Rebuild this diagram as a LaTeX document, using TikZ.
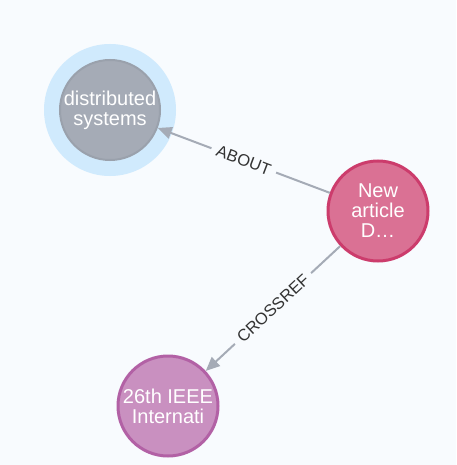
\documentclass[tikz,border=0pt]{standalone}
\usepackage{fontspec}
\setmainfont{Liberation Sans}
\usetikzlibrary{arrows.meta}

\definecolor{bgcol}{HTML}{F8FBFE}
\definecolor{halocol}{HTML}{D0EAFD}
\definecolor{topicfill}{HTML}{A5ABB6}
\definecolor{topicline}{HTML}{9AA1AC}
\definecolor{articlefill}{HTML}{DA7194}
\definecolor{articleline}{HTML}{CC3C6C}
\definecolor{eventfill}{HTML}{C990C0}
\definecolor{eventline}{HTML}{B261A5}
\definecolor{relcol}{HTML}{A5ABB6}

\begin{document}
\begin{tikzpicture}[x=1pt, y=-1pt,
  entity/.style={circle, minimum size=100pt, inner sep=0pt, align=center,
    text=white, font=\fontsize{20}{20}\selectfont},
  topic/.style={entity, fill=topicfill, draw=topicline, line width=2pt},
  article/.style={entity, fill=articlefill, draw=articleline, line width=3pt},
  event/.style={entity, fill=eventfill, draw=eventline, line width=3pt},
  rel/.style={draw=relcol, line width=2pt, -{Triangle[length=14pt, width=12pt]}},
  rellabel/.style={fill=bgcol, inner xsep=6pt, inner ysep=2pt, text=black!80,
    font=\fontsize{16.5}{16.5}\selectfont}]

\fill[bgcol] (0,0) rectangle (456,465);

\coordinate (dsc) at (110,110);
\fill[halocol] (dsc) circle (66);

\node[topic] (ds) at (dsc) {distributed\\systems};
\node[article] (art) at (378,211) {New\\article\\D…};
\node[event] (conf) at (168,406) {26th IEEE\\Internati};

\draw[rel] (art) -- (ds) node[midway, sloped, rellabel] {ABOUT};
\draw[rel] (art) -- (conf) node[midway, sloped, rellabel] {CROSSREF};

\end{tikzpicture}
\end{document}
